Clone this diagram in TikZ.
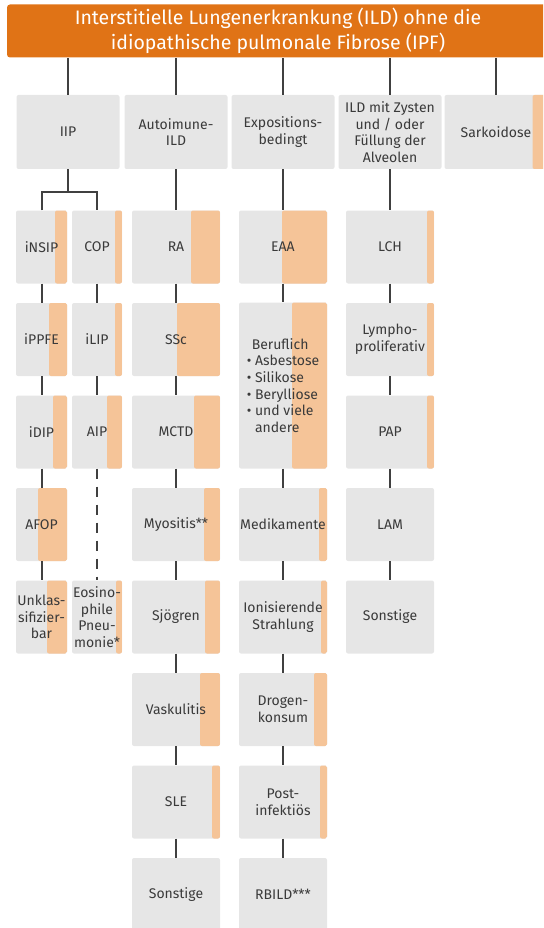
\documentclass[tikz,border=0pt]{standalone}
\usepackage{fontspec}
\setmainfont{Fira Sans}
\definecolor{hdor}{RGB}{224,115,22}
\definecolor{boxgray}{RGB}{230,230,230}
\definecolor{stripor}{RGB}{245,196,152}
\definecolor{txtgray}{RGB}{58,58,58}
\definecolor{lngray}{RGB}{64,64,64}
\tikzset{
  bx/.style={rectangle, rounded corners=2pt, fill=boxgray, minimum width=88pt,
    minimum height=73pt, inner sep=0pt, align=center, text=txtgray,
    font=\fontsize{14}{16.7}\selectfont},
  strip/.style={path picture={\fill[stripor] ([xshift=-#1]path picture bounding box.north east) rectangle (path picture bounding box.south east);}},
  topbx/.style={bx, minimum width=103pt, minimum height=74pt},
  narrowL/.style={bx, minimum width=51pt},
  narrowR/.style={bx, minimum width=50pt},
  conn/.style={draw=lngray, line width=2pt},
}
\begin{document}
\begin{tikzpicture}[x=1pt,y=-1pt]
\useasboundingbox (0,0) rectangle (543,928);
\clip (0,0) rectangle (543,928);
% header
\node[rectangle, rounded corners=3pt, fill=hdor, minimum width=542pt, minimum height=53pt,
  inner sep=0pt, align=center, text=white, font=\fontsize{19.5}{24.5}\selectfont]
  (head) at (278,31) {Interstitielle Lungenerkrankung (ILD) ohne die\\idiopathische pulmonale Fibrose (IPF)};
% top row
\node[topbx] (iip) at (68,132) {IIP};
\node[topbx] (auto) at (176,132) {Autoimune-\\ILD};
\node[topbx] (expo) at (283,132) {Expositions-\\bedingt};
\node[topbx] (zyst) at (390,132) {ILD mit Zysten\\und / oder\\Füllung der\\Alveolen};
\node[topbx, strip=15pt] (sark) at (496,132) {Sarkoidose};
\foreach \n in {iip,auto,expo,zyst,sark}{
  \draw[conn] (\n.north) -- (\n.north |- head.south);
}
% IIP subtree
\node[narrowL, strip=12pt] (insip) at (41.5,247) {iNSIP};
\node[narrowL, strip=18pt] (ippfe) at (41.5,339.5) {iPPFE};
\node[narrowL, strip=14pt] (idip) at (41.5,432) {iDIP};
\node[narrowL, strip=29pt] (afop) at (41.5,524.5) {AFOP};
\node[narrowL, strip=20pt] (unkl) at (41.5,617) {Unklas-\\sifizier-\\bar};
\node[narrowR, strip=7pt] (cop) at (97,247) {COP};
\node[narrowR, strip=7pt] (ilip) at (97,339.5) {iLIP};
\node[narrowR, strip=15pt] (aip) at (97,432) {AIP};
\node[narrowR, strip=6pt] (eos) at (97,617) {Eosino-\\phile\\Pneu-\\monie*};
\coordinate (split) at (68,192);
\draw[conn] (iip.south) -- (split);
\draw[conn] (insip.north) |- (split) -| (cop.north);
\draw[conn] (insip) -- (ippfe);
\draw[conn] (ippfe) -- (idip);
\draw[conn] (idip) -- (afop);
\draw[conn] (afop) -- (unkl);
\draw[conn] (cop) -- (ilip);
\draw[conn] (ilip) -- (aip);
\draw[conn, dash pattern=on 10pt off 8pt] (aip.south) -- (eos.north);
% Autoimmune column
\node[bx, strip=29pt] (ra) at (176,247) {RA};
\node[bx, strip=43pt] (ssc) at (176,339.5) {SSc};
\node[bx, strip=26pt] (mctd) at (176,432) {MCTD};
\node[bx, strip=16pt] (myo) at (176,524.5) {Myositis**};
\node[bx, strip=15pt] (sjo) at (176,617) {Sjögren};
\node[bx, strip=20pt] (vask) at (176,709.5) {Vaskulitis};
\node[bx, strip=8pt] (sle) at (176,802) {SLE};
\node[bx] (sons2) at (176,894.5) {Sonstige};
\draw[conn] (auto) -- (ra);
\draw[conn] (ra) -- (ssc);
\draw[conn] (ssc) -- (mctd);
\draw[conn] (mctd) -- (myo);
\draw[conn] (myo) -- (sjo);
\draw[conn] (sjo) -- (vask);
\draw[conn] (vask) -- (sle);
\draw[conn] (sle) -- (sons2);
% Exposition column
\node[bx, strip=45pt] (eaa) at (283,247) {EAA};
\node[bx, strip=35pt, minimum height=166pt, align=left] (ber) at (283,385.5)
  {\hspace{5pt}Beruflich\\\textbullet\ Asbestose\\\textbullet\ Silikose\\\textbullet\ Berylliose\\\textbullet\ und viele\\\phantom{\textbullet\ }andere};
\node[bx, strip=8pt] (medi) at (283,524.5) {Medikamente};
\node[bx, strip=6pt] (ioni) at (283,617) {Ionisierende\\Strahlung};
\node[bx, strip=13pt] (drog) at (283,709.5) {Drogen-\\konsum};
\node[bx, strip=7pt] (post) at (283,802) {Post-\\infektiös};
\node[bx] (rbild) at (283,894.5) {RBILD***};
\draw[conn] (expo) -- (eaa);
\draw[conn] (eaa) -- (ber);
\draw[conn] (ber) -- (medi);
\draw[conn] (medi) -- (ioni);
\draw[conn] (ioni) -- (drog);
\draw[conn] (drog) -- (post);
\draw[conn] (post) -- (rbild);
% Zysten column
\node[bx, strip=7pt] (lch) at (390,247) {LCH};
\node[bx, strip=7pt] (lymph) at (390,339.5) {Lympho-\\proliferativ};
\node[bx, strip=7pt] (pap) at (390,432) {PAP};
\node[bx] (lam) at (390,524.5) {LAM};
\node[bx] (sons4) at (390,617) {Sonstige};
\draw[conn] (zyst) -- (lch);
\draw[conn] (lch) -- (lymph);
\draw[conn] (lymph) -- (pap);
\draw[conn] (pap) -- (lam);
\draw[conn] (lam) -- (sons4);
\end{tikzpicture}
\end{document}
